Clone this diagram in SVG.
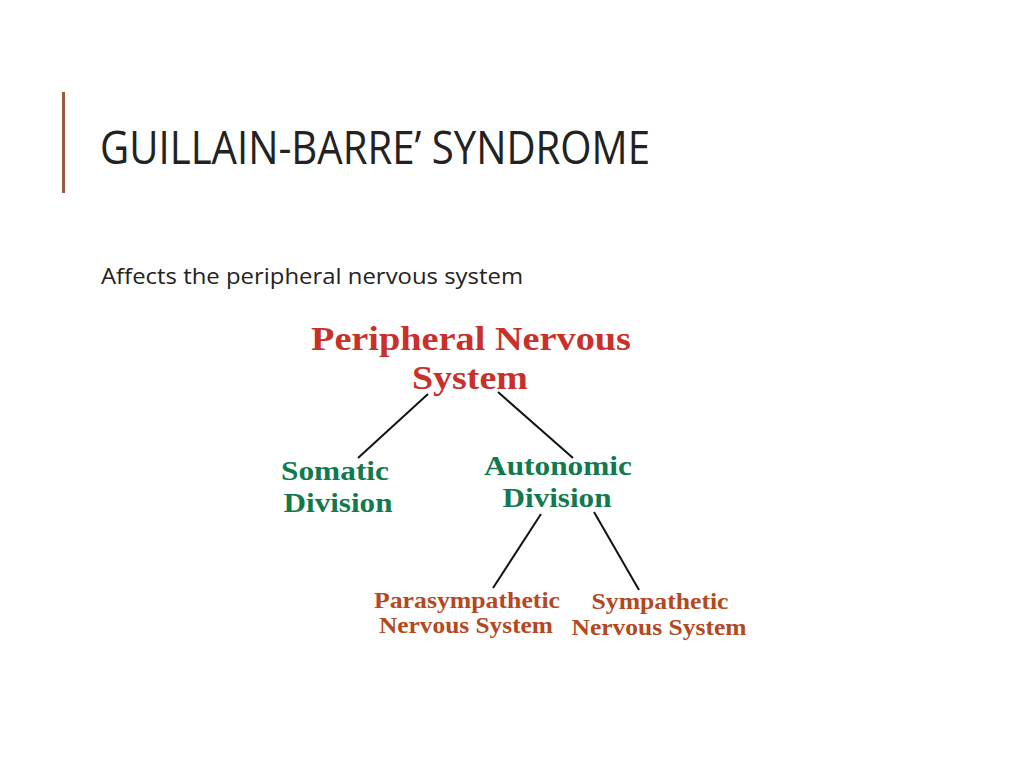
<svg xmlns="http://www.w3.org/2000/svg" width="1024" height="768" viewBox="0 0 1024 768">
<style>
.t{font-family:"Liberation Serif",serif;font-weight:bold;text-anchor:middle}
.red{fill:#c8312a;font-size:34px}
.grn{fill:#107a4e;font-size:28px}
.brn{fill:#b4481e;font-size:23px}
.c line{stroke:#111;stroke-width:2}
</style>
<rect width="1024" height="768" fill="#fff"/>
<rect x="62" y="92" width="3" height="101" fill="#9c5a3c"/>
<text x="100" y="164" font-family="'Open Sans',sans-serif" font-size="46" fill="#222" textLength="550" lengthAdjust="spacingAndGlyphs">GUILLAIN-BARRE’ SYNDROME</text>
<text x="101" y="284" font-family="'Open Sans',sans-serif" font-size="21" fill="#222" textLength="422" lengthAdjust="spacingAndGlyphs">Affects the peripheral nervous system</text>
<g class="c">
<line x1="428" y1="394" x2="358" y2="458"/>
<line x1="498" y1="392" x2="573" y2="458"/>
<line x1="541" y1="514" x2="493" y2="588"/>
<line x1="594" y1="512" x2="639" y2="590"/>
</g>
<g id="pns"><text class="t red" x="471" y="350" textLength="320" lengthAdjust="spacingAndGlyphs">Peripheral Nervous</text><text class="t red" x="470" y="389" textLength="116" lengthAdjust="spacingAndGlyphs">System</text></g>
<g id="somatic"><text class="t grn" x="335" y="480" textLength="108" lengthAdjust="spacingAndGlyphs">Somatic</text><text class="t grn" x="338" y="512" textLength="109" lengthAdjust="spacingAndGlyphs">Division</text></g>
<g id="autonomic"><text class="t grn" x="558" y="475" textLength="148" lengthAdjust="spacingAndGlyphs">Autonomic</text><text class="t grn" x="557" y="507" textLength="109" lengthAdjust="spacingAndGlyphs">Division</text></g>
<g id="para"><text class="t brn" x="467" y="608" textLength="186" lengthAdjust="spacingAndGlyphs">Parasympathetic</text><text class="t brn" x="466" y="633" textLength="174" lengthAdjust="spacingAndGlyphs">Nervous System</text></g>
<g id="symp"><text class="t brn" x="660" y="609" textLength="137" lengthAdjust="spacingAndGlyphs">Sympathetic</text><text class="t brn" x="659" y="635" textLength="175" lengthAdjust="spacingAndGlyphs">Nervous System</text></g>
</svg>
